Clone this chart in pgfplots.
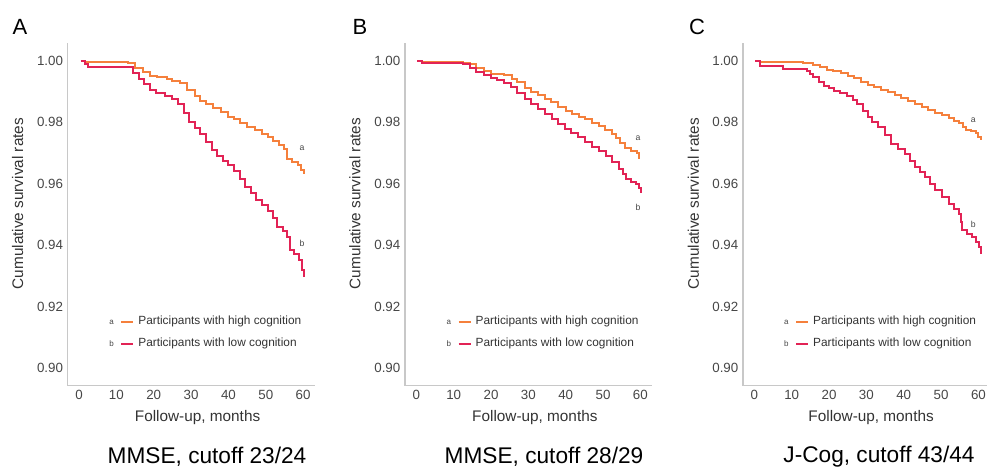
\documentclass[border=0pt]{standalone}
\usepackage{fontspec}
\setmainfont{Liberation Sans}
\usepackage{pgfplots}
\pgfplotsset{compat=1.18}

\definecolor{hicog}{RGB}{245,128,60}
\definecolor{locog}{RGB}{226,35,85}
\definecolor{axgray}{RGB}{200,200,200}
\definecolor{txtgray}{RGB}{70,70,70}

\tikzset{curvelab/.style={font=\fontsize{6.5}{7}\selectfont, text=txtgray, inner sep=0pt}}

\pgfplotsset{
  km/.style={
    scale only axis,
    width=185.5pt, height=257.25pt,
    axis lines=left,
    axis line style={draw=axgray, line width=1.1pt, -},
    xmin=-3.03, xmax=63.2, ymin=0.8943, ymax=1.00585,
    xtick={0,10,20,30,40,50,60},
    ytick={0.90,0.92,0.94,0.96,0.98,1.00},
    major tick length=0pt,
    /pgf/number format/assume math mode=true,
    yticklabel style={/pgf/number format/fixed,
      /pgf/number format/precision=2,
      /pgf/number format/fixed zerofill},
    ticklabel style={font=\fontsize{10}{12}\selectfont, text=txtgray},
    xlabel={Follow-up, months},
    ylabel={Cumulative survival rates},
    label style={font=\fontsize{11.5}{13}\selectfont, text=black!80},
    xlabel style={at={(axis description cs:0.525,-0.094)}, anchor=center},
    ylabel style={at={(axis description cs:-0.203,0.531)}, anchor=center, rotate=0},
    legend style={at={(axis description cs:0.151,0.212)}, anchor=north west,
      draw=none, fill=none, font=\fontsize{8.9}{10}\selectfont,
      text=black!80,
      nodes={inner sep=0pt, text height=6.5pt, text depth=2pt},
      row sep=8.25pt, column sep=3pt},
    legend cell align=left,
    clip=false,
  },
  kmhigh/.style={const plot, no markers, draw=hicog, line width=1.5pt,
    legend image code/.code={
      \node[font=\fontsize{6}{7}\selectfont, text=txtgray, inner sep=0pt] at (-9.75pt,0pt) {a};
      \draw[draw=hicog, line width=1.5pt] (0pt,0pt) -- (9pt,0pt);}},
  kmlow/.style={const plot, no markers, draw=locog, line width=1.5pt,
    legend image code/.code={
      \node[font=\fontsize{6}{7}\selectfont, text=txtgray, inner sep=0pt] at (-9.75pt,0pt) {b};
      \draw[draw=locog, line width=1.5pt] (0pt,0pt) -- (9pt,0pt);}},
}

\begin{document}
\begin{tikzpicture}

% ---------------- A: MMSE 23/24
\begin{axis}[km, at={(50.8pt,-289.3pt)}, anchor=south west]
\addplot[kmhigh] coordinates {
(0.5,1.0000) (1.5,0.9995) (13,0.9993) (15,0.9975) (17,0.9962) (19,0.9950)
(21,0.9946) (23.5,0.9942) (25,0.9935) (27,0.9926) (29,0.9905) (31,0.9885)
(32.5,0.9870) (34,0.9858) (36,0.9845) (38,0.9832) (40,0.9818) (41.5,0.9810)
(43,0.9798) (45,0.9786) (47,0.9775) (49,0.9762) (50.5,0.9752) (52,0.9738)
(53.5,0.9725) (55,0.9712) (55.8,0.9680) (57,0.9672) (58.5,0.9660) (59.5,0.9645)
(60.3,0.9632)
};
\addlegendentry{Participants with high cognition}
\addplot[kmlow] coordinates {
(0.5,1.0000) (1.5,0.9990) (2.5,0.9980) (13,0.9978) (14.5,0.9960) (16,0.9942)
(17.5,0.9925) (19,0.9905) (20.5,0.9895) (23,0.9885) (25,0.9875) (26.5,0.9858)
(28,0.9830) (29.5,0.9800) (31,0.9780) (32.5,0.9762) (34,0.9735) (35.5,0.9710)
(37,0.9690) (38.5,0.9675) (40,0.9660) (41.5,0.9640) (43,0.9615) (44.5,0.9590)
(46,0.9570) (47.5,0.9548) (49,0.9530) (50.5,0.9512) (52,0.9490) (53,0.9460)
(54.5,0.9445) (55.7,0.9428) (56.5,0.9385) (57.5,0.9370) (59,0.9352) (59.8,0.9320)
(60.3,0.9298)
};
\addlegendentry{Participants with low cognition}
\node[curvelab] at (axis cs:59.7,0.9716) {a};
\node[curvelab] at (axis cs:59.7,0.9407) {b};
\end{axis}

% ---------------- B: MMSE 28/29
\begin{axis}[km, at={(303.75pt,-289.3pt)}, anchor=south west]
\addplot[kmhigh] coordinates {
(0.3,1.0000) (1.5,0.9995) (12.5,0.9993) (14.5,0.9988) (16,0.9975) (18,0.9965)
(20,0.9958) (23.5,0.9952) (25.5,0.9942) (27,0.9930) (29,0.9912) (30.8,0.9898)
(32.5,0.9888) (34.5,0.9876) (36,0.9865) (38,0.9850) (40,0.9836) (41.6,0.9826)
(43.5,0.9818) (45.2,0.9810) (47,0.9798) (49,0.9787) (50.5,0.9776) (52.5,0.9762)
(53.5,0.9748) (54.5,0.9734) (56,0.9715) (57.5,0.9706) (59,0.9700) (59.7,0.9682)
};
\addlegendentry{Participants with high cognition}
\addplot[kmlow] coordinates {
(0.3,1.0000) (1.5,0.9992) (12.5,0.9988) (14.5,0.9975) (16,0.9962) (18,0.9953)
(20,0.9945) (21.7,0.9937) (23.5,0.9928) (25.3,0.9915) (27,0.9895) (29,0.9876)
(30.8,0.9860) (32.6,0.9844) (34.5,0.9828) (36.2,0.9811) (38,0.9795) (39.8,0.9778)
(41.5,0.9765) (43.4,0.9751) (45.2,0.9735) (47,0.9718) (49,0.9705) (50.7,0.9691)
(52.5,0.9670) (54.3,0.9647) (55.3,0.9630) (56.1,0.9615) (57.5,0.9605) (58.8,0.9598)
(59.6,0.9585) (60.2,0.9570)
};
\addlegendentry{Participants with low cognition}
\node[curvelab] at (axis cs:59.4,0.9749) {a};
\node[curvelab] at (axis cs:59.4,0.9524) {b};
\end{axis}

% ---------------- C: J-Cog 43/44
\begin{axis}[km, at={(557.25pt,-289.3pt)}, anchor=south west,
  width=183pt, xmax=62.3]
\addplot[kmhigh] coordinates {
(0.3,1.0000) (1.5,0.9997) (13,0.9994) (15.8,0.9986) (17.5,0.9978) (19.5,0.9970)
(21,0.9965) (23.1,0.9959) (25,0.9951) (26.7,0.9943) (28.5,0.9932) (30.3,0.9921)
(32,0.9913) (34,0.9905) (35.8,0.9897) (37.6,0.9889) (39.4,0.9878) (41.2,0.9868)
(43,0.9860) (44.8,0.9851) (46.6,0.9840) (48.4,0.9830) (50.2,0.9822) (52,0.9814)
(53.5,0.9805) (54.8,0.9797) (55.8,0.9786) (56.6,0.9776) (58,0.9770) (59.3,0.9765)
(60,0.9752) (60.6,0.9743)
};
\addlegendentry{Participants with high cognition}
\addplot[kmlow] coordinates {
(0.3,1.0000) (1.5,0.9984) (7.7,0.9973) (14,0.9965) (15,0.9958) (15.8,0.9946)
(17.2,0.9932) (18.6,0.9919) (20,0.9910) (21.3,0.9903) (23,0.9895) (24.9,0.9886)
(26.3,0.9872) (27.6,0.9859) (29,0.9838) (30.3,0.9816) (31.6,0.9800) (33,0.9784)
(35,0.9757) (36.7,0.9730) (38.5,0.9713) (40.3,0.9697) (41.6,0.9675) (43,0.9654)
(44.3,0.9638) (45.7,0.9622) (47,0.9600) (48.4,0.9578) (50.2,0.9556) (52,0.9535)
(53.4,0.9519) (54.8,0.9503) (55.3,0.9476) (55.7,0.9449) (57,0.9438) (58.4,0.9427)
(59.3,0.9411) (60.2,0.9395) (60.6,0.9373)
};
\addlegendentry{Participants with low cognition}
\node[curvelab] at (axis cs:58.6,0.9807) {a};
\node[curvelab] at (axis cs:58.6,0.9469) {b};
\end{axis}

% panel letters and captions
\node[font=\fontsize{16.5}{18}\selectfont] at (15pt,-20.25pt) {A};
\node[font=\fontsize{16.5}{18}\selectfont] at (270pt,-20.25pt) {B};
\node[font=\fontsize{16.5}{18}\selectfont] at (522.75pt,-20.25pt) {C};
\node[font=\fontsize{17}{19}\selectfont] at (155.25pt,-342.75pt) {MMSE, cutoff 23/24};
\node[font=\fontsize{17}{19}\selectfont] at (408pt,-342.75pt) {MMSE, cutoff 28/29};
\node[font=\fontsize{17}{19}\selectfont] at (659.25pt,-342.75pt) {J-Cog, cutoff 43/44};

\pgfresetboundingbox
\useasboundingbox (0pt,0pt) rectangle (740.25pt,-354pt);
\end{tikzpicture}
\end{document}
